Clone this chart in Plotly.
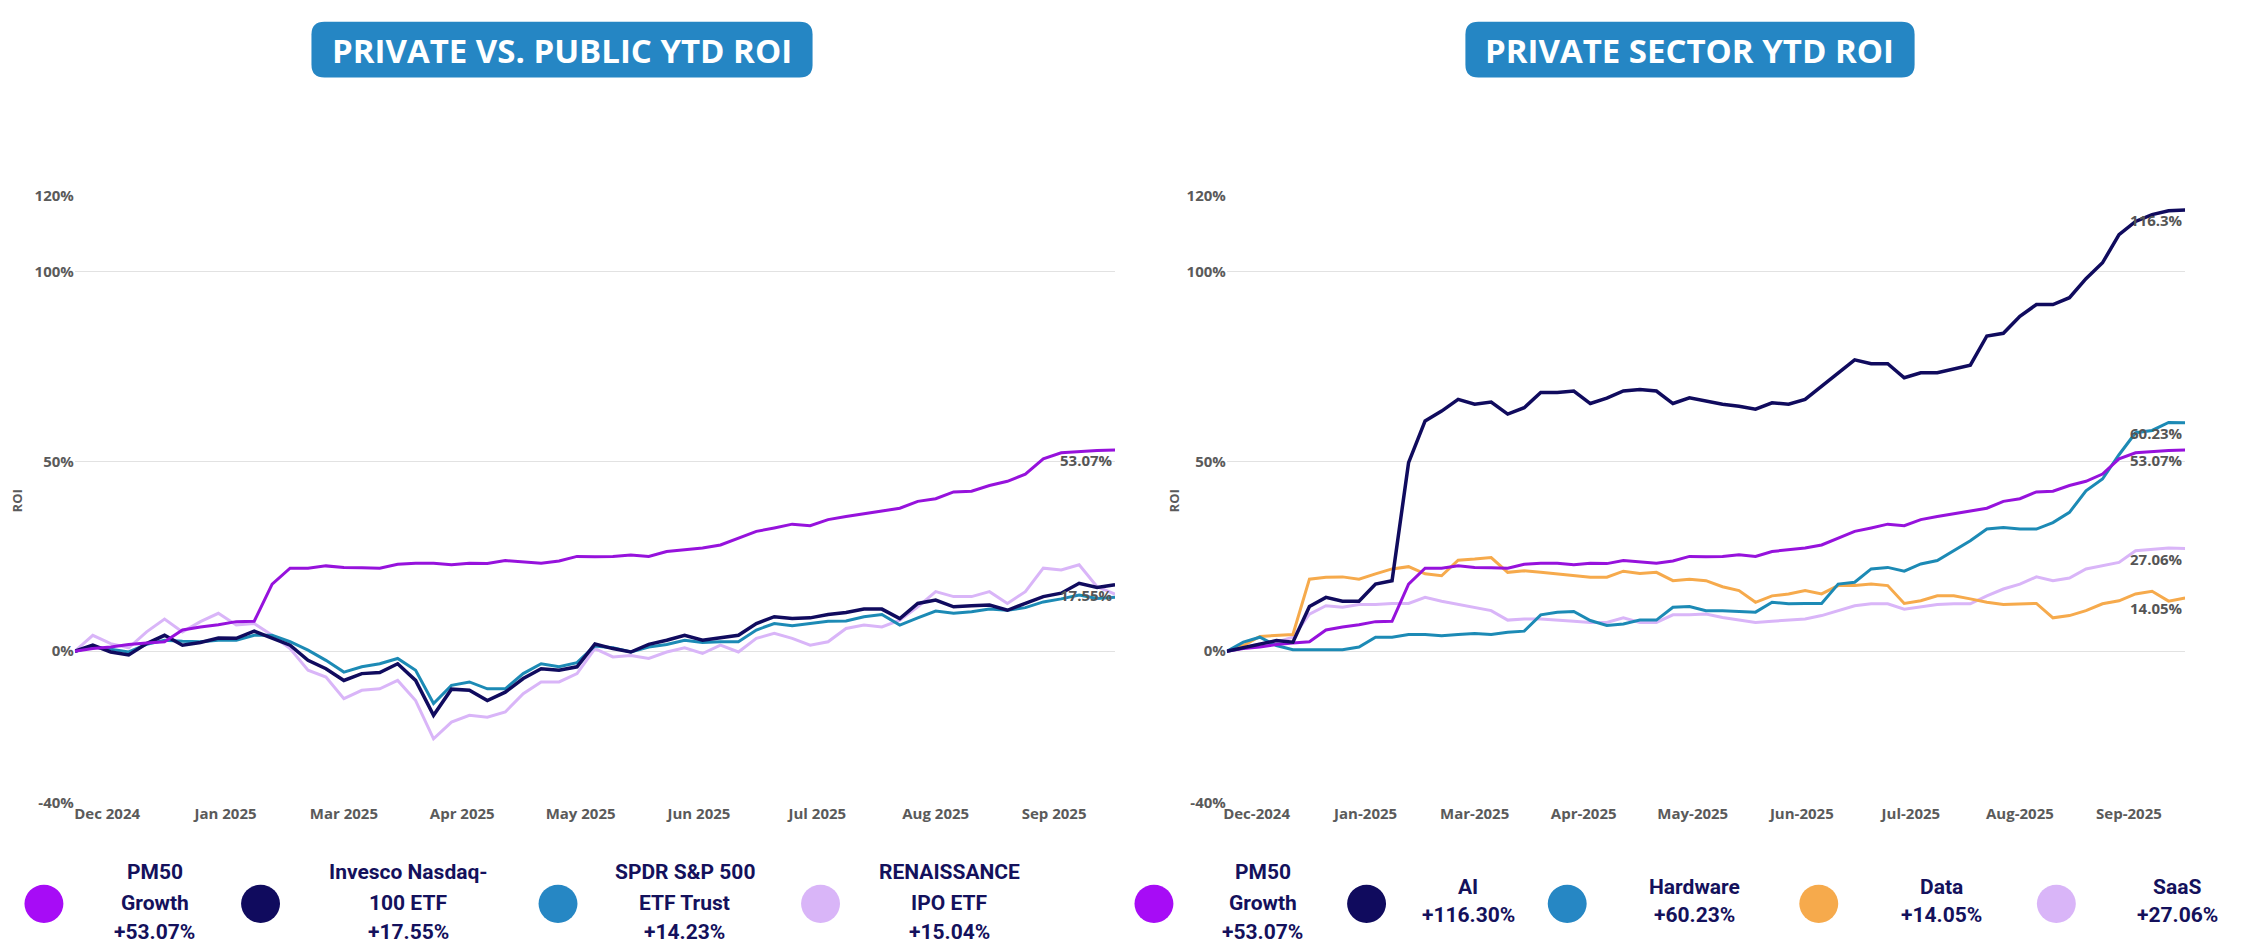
import pandas as pd
import plotly.graph_objects as go

W, H = 2250, 950

# ---------------- data (5-day steps) ----------------
start_date = "2024-12-18"
dates = pd.date_range(start_date, periods=59, freq="5D")
tick_dates = ["2024-12-27", "2025-01-29", "2025-03-03", "2025-04-05", "2025-05-08",
              "2025-06-10", "2025-07-13", "2025-08-15", "2025-09-17"]

pm50 = [0, 0.7, 1.1, 1.8, 2.2, 2.5, 5.6, 6.4, 7.0, 7.8, 7.9, 17.7, 21.9, 21.9, 22.5,
        22.1, 22.0, 21.9, 22.9, 23.2, 23.2, 22.8, 23.2, 23.1, 23.9, 23.6, 23.2, 23.8,
        25.0, 24.9, 25.0, 25.4, 25.0, 26.3, 26.7, 27.2, 28.0, 29.8, 31.6, 32.5, 33.5,
        33.1, 34.7, 35.5, 36.2, 37.0, 37.7, 39.5, 40.2, 42.0, 42.2, 43.7, 44.8, 46.7,
        50.7, 52.3, 52.7, 52.9, 53.07]

nasdaq = [0, 1.6, -0.2, -1.0, 2.0, 4.2, 1.6, 2.3, 3.5, 3.4, 5.3, 3.4, 1.6, -2.4, -4.6,
          -7.7, -5.9, -5.6, -3.3, -7.7, -16.9, -10.0, -10.3, -13.0, -10.8, -7.2, -4.6,
          -5.0, -4.1, 1.9,
          0.7, -0.2, 1.8, 2.9, 4.2, 2.9, 3.5, 4.2, 7.3, 9.1, 8.6, 8.8, 9.7, 10.2, 11.1,
          11.1, 8.6, 12.6, 13.5, 11.7, 12.0, 12.2, 10.8, 12.6, 14.4, 15.3, 17.9, 16.8,
          17.55]

spdr = [0, 1.1, 0.5, -0.2, 1.8, 2.9, 2.6, 2.5, 2.9, 2.9, 4.2, 4.2, 2.5, 0.3, -2.4,
        -5.5, -4.1, -3.3, -1.9, -5.0, -13.8, -9.0, -8.1, -9.9, -9.9, -5.9, -3.3, -4.1,
        -3.0, 1.4,
        0.9, -0.2, 1.1, 1.8, 2.9, 2.3, 2.5, 2.5, 5.6, 7.3, 6.7, 7.3, 7.9, 8.0, 9.1, 9.7,
        6.9, 8.8, 10.6, 10.0, 10.4, 11.1, 10.8, 11.5, 13.0, 13.8, 14.8, 13.9, 14.23]

renaissance = [0, 4.2, 2.0, 0.9, 5.1, 8.5, 5.1, 7.8, 10.0, 6.9, 7.3, 4.2, 0.7, -5.0,
               -6.8, -12.5, -10.3, -9.9, -7.7, -13.0, -23.1, -18.7, -16.9, -17.4, -16.0,
               -11.2, -8.1, -8.1, -5.9, 0.7,
               -1.5, -1.1, -1.9, -0.2, 0.9, -0.6, 1.6, -0.2, 3.4, 4.7, 3.4, 1.6, 2.5,
               6.0, 6.9, 6.4, 8.2, 11.7, 15.7, 14.4, 14.4, 15.7, 12.6, 15.7, 21.9, 21.4,
               22.8, 17.0, 15.04]

ai = [0, 1.0, 1.9, 2.8, 2.4, 11.8, 14.2, 13.2, 13.2, 17.7, 18.6, 49.7, 60.7, 63.3,
      66.4, 65.1, 65.7, 62.5, 64.2, 68.2, 68.2, 68.6, 65.3, 66.7, 68.6, 69.0, 68.6,
      65.3, 66.8, 66.0, 65.1,
      64.6, 63.8, 65.5, 65.1, 66.4, 69.9, 73.4, 76.8, 75.8, 75.8, 72.1, 73.4, 73.4,
      74.3, 75.4, 83.1, 83.8, 88.3, 91.4, 91.4, 93.2, 98.2, 102.4, 109.8, 113.3,
      115.1, 116.1, 116.3]

hardware = [0, 2.4, 3.7, 1.5, 0.4, 0.4, 0.4, 0.4, 1.1, 3.7, 3.7, 4.4, 4.4, 4.1, 4.4,
            4.7, 4.4, 5.0, 5.3, 9.6, 10.3, 10.5, 8.1, 6.8, 7.2, 8.2, 8.2, 11.6, 11.8,
            10.7, 10.7,
            10.5, 10.3, 12.9, 12.5, 12.6, 12.6, 17.7, 18.2, 21.7, 22.1, 21.1, 23.0, 23.9,
            26.5, 29.1, 32.2, 32.6, 32.2, 32.2, 33.9, 36.6, 42.3, 45.4, 51.8, 57.6, 58.2,
            60.3, 60.23]

data_sector = [0, 1.5, 3.9, 4.1, 4.4, 19.0, 19.5, 19.6, 19.0, 20.4, 21.7, 22.3, 20.4,
               19.9, 24.0, 24.3, 24.7, 20.8, 21.2, 20.8, 20.4, 19.9, 19.5, 19.5, 21.1,
               20.5, 20.8, 18.6, 19.0, 18.6, 17.0,
               16.0, 12.9, 14.6, 15.1, 16.0, 15.1, 17.3, 17.3, 17.7, 17.3, 12.6, 13.3,
               14.6, 14.6, 13.8, 12.9, 12.3, 12.5, 12.6, 8.8, 9.4, 10.7, 12.5, 13.3,
               15.1, 15.8, 13.2, 14.05]

saas = [0, 1.0, 1.9, 2.4, 3.7, 9.8, 12.0, 11.6, 12.3, 12.3, 12.6, 12.6, 14.2, 13.2,
        12.3, 11.6, 10.7, 8.2, 8.5, 8.5, 8.1, 7.9, 7.6, 7.6, 8.8, 7.6, 7.6, 9.6, 9.6,
        9.8, 8.9,
        8.2, 7.6, 7.9, 8.1, 8.5, 9.4, 10.7, 12.0, 12.5, 12.5, 11.1, 11.8, 12.3, 12.5,
        12.5, 14.6, 16.4, 17.7, 19.6, 18.6, 19.3, 21.7, 22.5, 23.4, 26.5, 26.9, 27.2,
        27.06]

y_ticks = [-40, 0, 50, 100, 120]
y_tick_text = ["-40%", "0%", "50%", "100%", "120%"]

left_names = [["PM50", "Growth"], ["Invesco Nasdaq-", "100 ETF"],
              ["SPDR S&P 500", "ETF Trust"], ["RENAISSANCE", "IPO ETF"]]
left_totals = [53.07, 17.55, 14.23, 15.04]
right_names = [["PM50", "Growth"], ["AI"], ["Hardware"], ["Data"], ["SaaS"]]
right_totals = [53.07, 116.30, 60.23, 14.05, 27.06]

# ---------------- styles ----------------
C_PM50_LINE, C_PM50_DOT = "#9612DC", "#A70CF6"
C_NAVY = "#100B5E"
C_TEAL_LINE, C_TEAL_DOT = "#1C8AB5", "#2687C4"
C_LAV = "#D9B5F8"
C_ORANGE = "#F6AA4C"
TXT_NAVY = "#14115C"
AX_GRAY = "#5A5A5A"
TITLE_BLUE = "#2586C4"


def px_x(p):
    return p / W


def px_y(p):
    return 1 - p / H


fig = go.Figure()

left_series = [(renaissance, C_LAV, 3), (spdr, C_TEAL_LINE, 3),
               (nasdaq, C_NAVY, 3.5), (pm50, C_PM50_LINE, 3)]
for vals, col, wd in left_series:
    fig.add_trace(go.Scatter(x=dates, y=vals, mode="lines", xaxis="x", yaxis="y",
                             line=dict(color=col, width=wd), showlegend=False,
                             hoverinfo="skip"))

right_series = [(saas, C_LAV, 3), (data_sector, C_ORANGE, 3), (hardware, C_TEAL_LINE, 3),
                (pm50, C_PM50_LINE, 3), (ai, C_NAVY, 3.5)]
for vals, col, wd in right_series:
    fig.add_trace(go.Scatter(x=dates, y=vals, mode="lines", xaxis="x2", yaxis="y2",
                             line=dict(color=col, width=wd), showlegend=False,
                             hoverinfo="skip"))

tick_font = dict(family="Open Sans", size=15, color=AX_GRAY, weight="bold")
common_x = dict(type="date", range=[dates[0], dates[-1]], tickvals=tick_dates,
                showgrid=False, zeroline=False, showline=False, ticks="",
                tickfont=tick_font, fixedrange=True)
common_y = dict(range=[-40, 120], tickvals=y_ticks, ticktext=y_tick_text, showgrid=True,
                gridcolor="#E2E2E2", gridwidth=1.3, zeroline=False, showline=False,
                ticks="", tickfont=tick_font, fixedrange=True)

y_dom = [px_y(809), px_y(189)]
fig.update_layout(
    width=W, height=H, margin=dict(l=0, r=0, t=0, b=0),
    paper_bgcolor="white", plot_bgcolor="white",
    xaxis=dict(domain=[px_x(71), px_x(1113)], anchor="y", tickformat="%b %Y", **common_x),
    yaxis=dict(domain=y_dom, anchor="x", **common_y),
    xaxis2=dict(domain=[px_x(1225), px_x(2185)], anchor="y2", tickformat="%b-%Y", **common_x),
    yaxis2=dict(domain=y_dom, anchor="x2", **common_y),
)

shapes = []
annotations = []


def rounded_rect(x0, y0, x1, y1, r):
    def P(x, y):
        return f"{px_x(x):.5f},{px_y(y):.5f}"
    path = (f"M {P(x0 + r, y0)} L {P(x1 - r, y0)} Q {P(x1, y0)} {P(x1, y0 + r)} "
            f"L {P(x1, y1 - r)} Q {P(x1, y1)} {P(x1 - r, y1)} L {P(x0 + r, y1)} "
            f"Q {P(x0, y1)} {P(x0, y1 - r)} L {P(x0, y0 + r)} Q {P(x0, y0)} {P(x0 + r, y0)} Z")
    return dict(type="path", xref="paper", yref="paper", path=path,
                fillcolor=TITLE_BLUE, line=dict(width=0), layer="below")


titles = [("PRIVATE VS. PUBLIC YTD ROI", 308, 810), ("PRIVATE SECTOR YTD ROI", 1464, 1914)]
for text, bx0, bx1 in titles:
    shapes.append(rounded_rect(bx0, 11, bx1, 68, 13))
    annotations.append(dict(text=f"<b>{text}</b>", xref="paper", yref="paper",
                            x=px_x((bx0 + bx1) / 2), y=px_y(40), showarrow=False,
                            xanchor="center", yanchor="middle",
                            font=dict(family="Open Sans", size=33, color="white")))

# y axis titles
for xp in (13, 1173):
    annotations.append(dict(text="<b>ROI</b>", xref="paper", yref="paper", x=px_x(xp),
                            y=px_y(500), showarrow=False, textangle=-90,
                            xanchor="center", yanchor="middle",
                            font=dict(family="Open Sans", size=13, color=AX_GRAY)))

# end-of-line value labels
end_labels = [("x", "y", pm50[-1], "53.07%"), ("x", "y", nasdaq[-1], "17.55%"),
              ("x2", "y2", ai[-1], "116.3%"), ("x2", "y2", hardware[-1], "60.23%"),
              ("x2", "y2", pm50[-1], "53.07%"), ("x2", "y2", saas[-1], "27.06%"),
              ("x2", "y2", data_sector[-1], "14.05%")]
for xr, yr, v, t in end_labels:
    annotations.append(dict(text=f"<b>{t}</b>", xref=xr, yref=yr, x=dates[-1], y=v,
                            showarrow=False, xanchor="right", yanchor="middle",
                            yshift=-10,
                            font=dict(family="Open Sans", size=15, color="#555555")))

# custom legends
left_leg = [(40, 151, C_PM50_DOT), (257, 405, C_NAVY), (555, 682, C_TEAL_DOT),
            (818, 947, C_LAV)]
right_leg = [(1152, 1261, C_PM50_DOT), (1365, 1467, C_NAVY), (1566, 1694, C_TEAL_DOT),
             (1818, 1941, C_ORANGE), (2056, 2177, C_LAV)]
R = 19.5
for legs, names, totals in ((left_leg, left_names, left_totals),
                            (right_leg, right_names, right_totals)):
    for (cx, tx, col), nm, tot in zip(legs, names, totals):
        cy = 912
        shapes.append(dict(type="circle", xref="paper", yref="paper",
                           x0=px_x(cx - R), x1=px_x(cx + R), y0=px_y(cy + R),
                           y1=px_y(cy - R), fillcolor=col, line=dict(width=0)))
        lines = nm + [f"+{tot:.2f}%"]
        ys = [880, 911, 941] if len(lines) == 3 else [895, 923]
        for ln, ly in zip(lines, ys):
            annotations.append(dict(text=f"<b>{ln}</b>", xref="paper", yref="paper",
                                    x=px_x(tx), y=px_y(ly), showarrow=False,
                                    xanchor="center", yanchor="middle",
                                    font=dict(family="Roboto", size=21, color=TXT_NAVY)))

fig.update_layout(shapes=shapes, annotations=annotations)
fig.write_html("out.html", config={"displayModeBar": False},
               post_script="document.body.style.margin='0px';document.body.style.overflow='hidden';")
